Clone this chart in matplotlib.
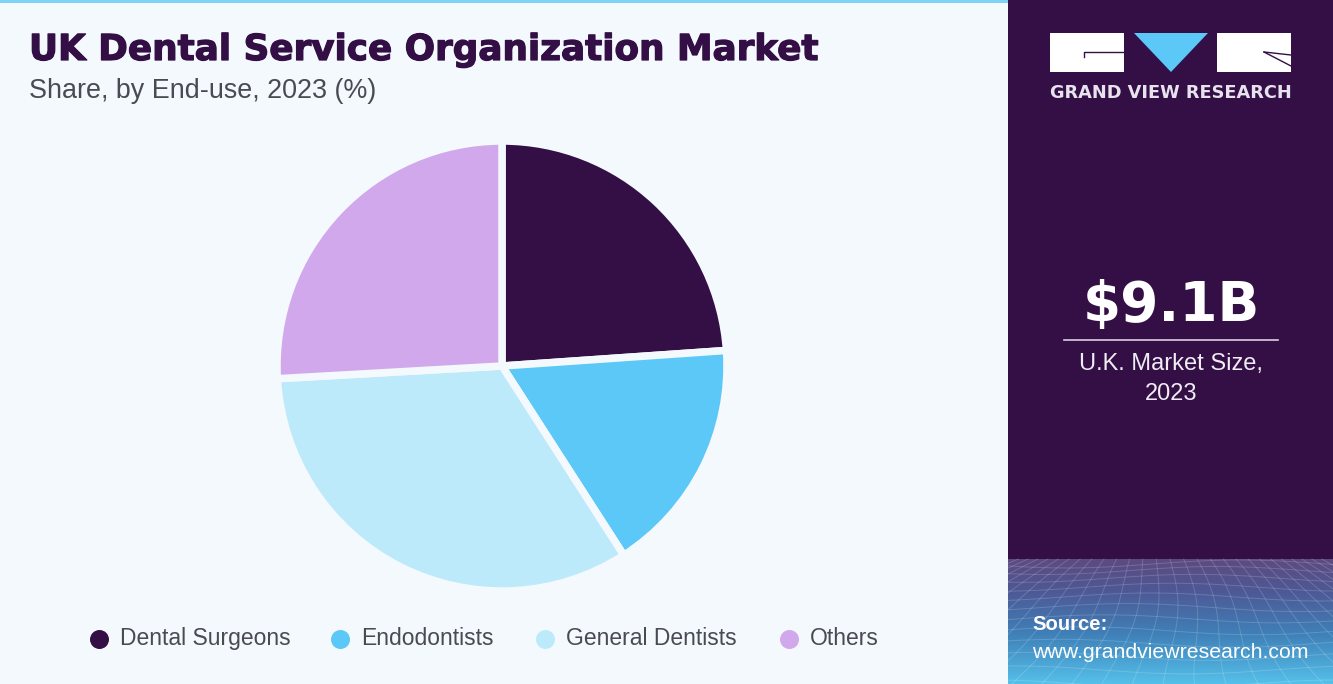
"""UK dental service organization market share, by end-use (2023)."""

import numpy as np
import matplotlib.pyplot as plt
import matplotlib.patheffects as pe
from matplotlib.patches import Polygon, Rectangle

W, H = 1333, 684

# Values
labels = ["Dental Surgeons", "Endodontists", "General Dentists", "Others"]
shares = [23.9, 17.0, 33.2, 25.9]
colors = ["#330f45", "#5bc8f8", "#bdeafb", "#d2a8ec"]
legend_x = [99, 340, 545, 789]

PURPLE = "#330f45"
BG = "#f3f9fc"
GREY = "#4a4a55"

plt.rcParams["font.family"] = ["Liberation Sans", "DejaVu Sans"]

fig = plt.figure(figsize=(W / 100, H / 100), dpi=100, facecolor=BG)

# canvas in pixel coordinates, y pointing down
bg = fig.add_axes([0, 0, 1, 1])
bg.set_xlim(0, W)
bg.set_ylim(H, 0)
bg.axis("off")

# top accent line and right panel
bg.add_patch(Rectangle((0, 0), 1008, 3, color="#7fd3f7", lw=0))
bg.add_patch(Rectangle((1008, 0), W - 1008, H, color=PURPLE, lw=0, zorder=1))

# gradient strip at the bottom of the panel
stops = np.array([0.0, 0.25, 0.6, 1.0])
strip = np.stack([
    np.interp(np.linspace(0, 1, 125), stops, [0x5d, 0x4e, 0x3f, 0x55]),
    np.interp(np.linspace(0, 1, 125), stops, [0x4a, 0x58, 0x80, 0xc0]),
    np.interp(np.linspace(0, 1, 125), stops, [0x80, 0x95, 0xb8, 0xea]),
], axis=1)[:, None, :] / 255
bg.imshow(strip, extent=(1008, W, H, 559), aspect="auto", zorder=2)

# faint wavy mesh over the strip (background decoration only)
ys = np.linspace(559, H, 60)
for k in np.linspace(-1.6, 1.6, 27):
    xs = 1170 + k * (95 + 165 * (ys - 559) / 125) + 8 * np.sin((ys - 559) / 30 + k * 2)
    bg.plot(xs, ys, color="white", lw=0.7, alpha=0.17, zorder=3)
xs = np.linspace(1008, W, 80)
for t in np.linspace(0.1, 1, 12):
    y = 559 + (H - 559) * t ** 1.4 + 4 * np.sin((xs - 1008) / 55 + t * 5)
    bg.plot(xs, y, color="white", lw=0.7, alpha=0.17, zorder=3)
bg.set_xlim(0, W)
bg.set_ylim(H, 0)

# title block
bg.text(29, 50, "UK Dental Service Organization Market", fontsize=25.75,
        family="DejaVu Sans", fontweight="bold", color=PURPLE, va="center",
        path_effects=[pe.withStroke(linewidth=0.9, foreground=PURPLE)])
bg.text(29, 91, "Share, by End-use, 2023 (%)", fontsize=19.4, color=GREY, va="center")

# logo
bg.add_patch(Rectangle((1050, 33), 74, 39, color="white", lw=0, zorder=4))
bg.add_patch(Rectangle((1217, 33), 74, 39, color="white", lw=0, zorder=4))
bg.add_patch(Polygon([[1134, 33], [1208, 33], [1171, 72]], color="#5bc8f8", lw=0, zorder=4))
bg.plot([1084, 1084, 1124], [57, 52, 52], color=PURPLE, lw=1, zorder=5)
bg.plot([1264, 1291], [52, 66], color=PURPLE, lw=1, zorder=5)
bg.plot([1264, 1291], [52, 55], color=PURPLE, lw=1, zorder=5)
bg.text(1171, 93, "GRAND VIEW RESEARCH", fontsize=12.8, family="DejaVu Sans",
        fontweight="bold", color="#e8e2ee", ha="center", va="center", zorder=5)

# market size callout
bg.text(1171, 306, "$9.1B", fontsize=39.5, family="DejaVu Sans", fontweight="bold",
        color="white", ha="center", va="center", zorder=5)
bg.plot([1064, 1278], [340, 340], color="#d8d0e0", lw=1.2, zorder=5)
bg.text(1171, 379, "U.K. Market Size,\n2023", fontsize=17, color="#f0ecf4",
        ha="center", va="center", linespacing=1.45, zorder=5)

# source
bg.text(1032, 625, "Source:", fontsize=14.6, fontweight="bold", color="white",
        va="center", zorder=5)
bg.text(1032, 652, "www.grandviewresearch.com", fontsize=15.3, color="white",
        va="center", zorder=5)

# pie
cx, cy, r = 502, 366, 225
pie_ax = fig.add_axes([(cx - r) / W, 1 - (cy + r) / H, 2 * r / W, 2 * r / H])
pie_ax.pie(shares, colors=colors, startangle=90, counterclock=False, radius=1.0,
           wedgeprops={"edgecolor": BG, "linewidth": 5.4})
pie_ax.set_xlim(-1, 1)
pie_ax.set_ylim(-1, 1)

# legend
for x, name, c in zip(legend_x, labels, colors):
    bg.scatter([x], [639], s=187, color=c, lw=0, zorder=5)
    bg.text(x + 21, 645, name, fontsize=16.5, color=GREY, va="baseline", zorder=5)

fig.savefig("out.png", dpi=100, facecolor=BG)
